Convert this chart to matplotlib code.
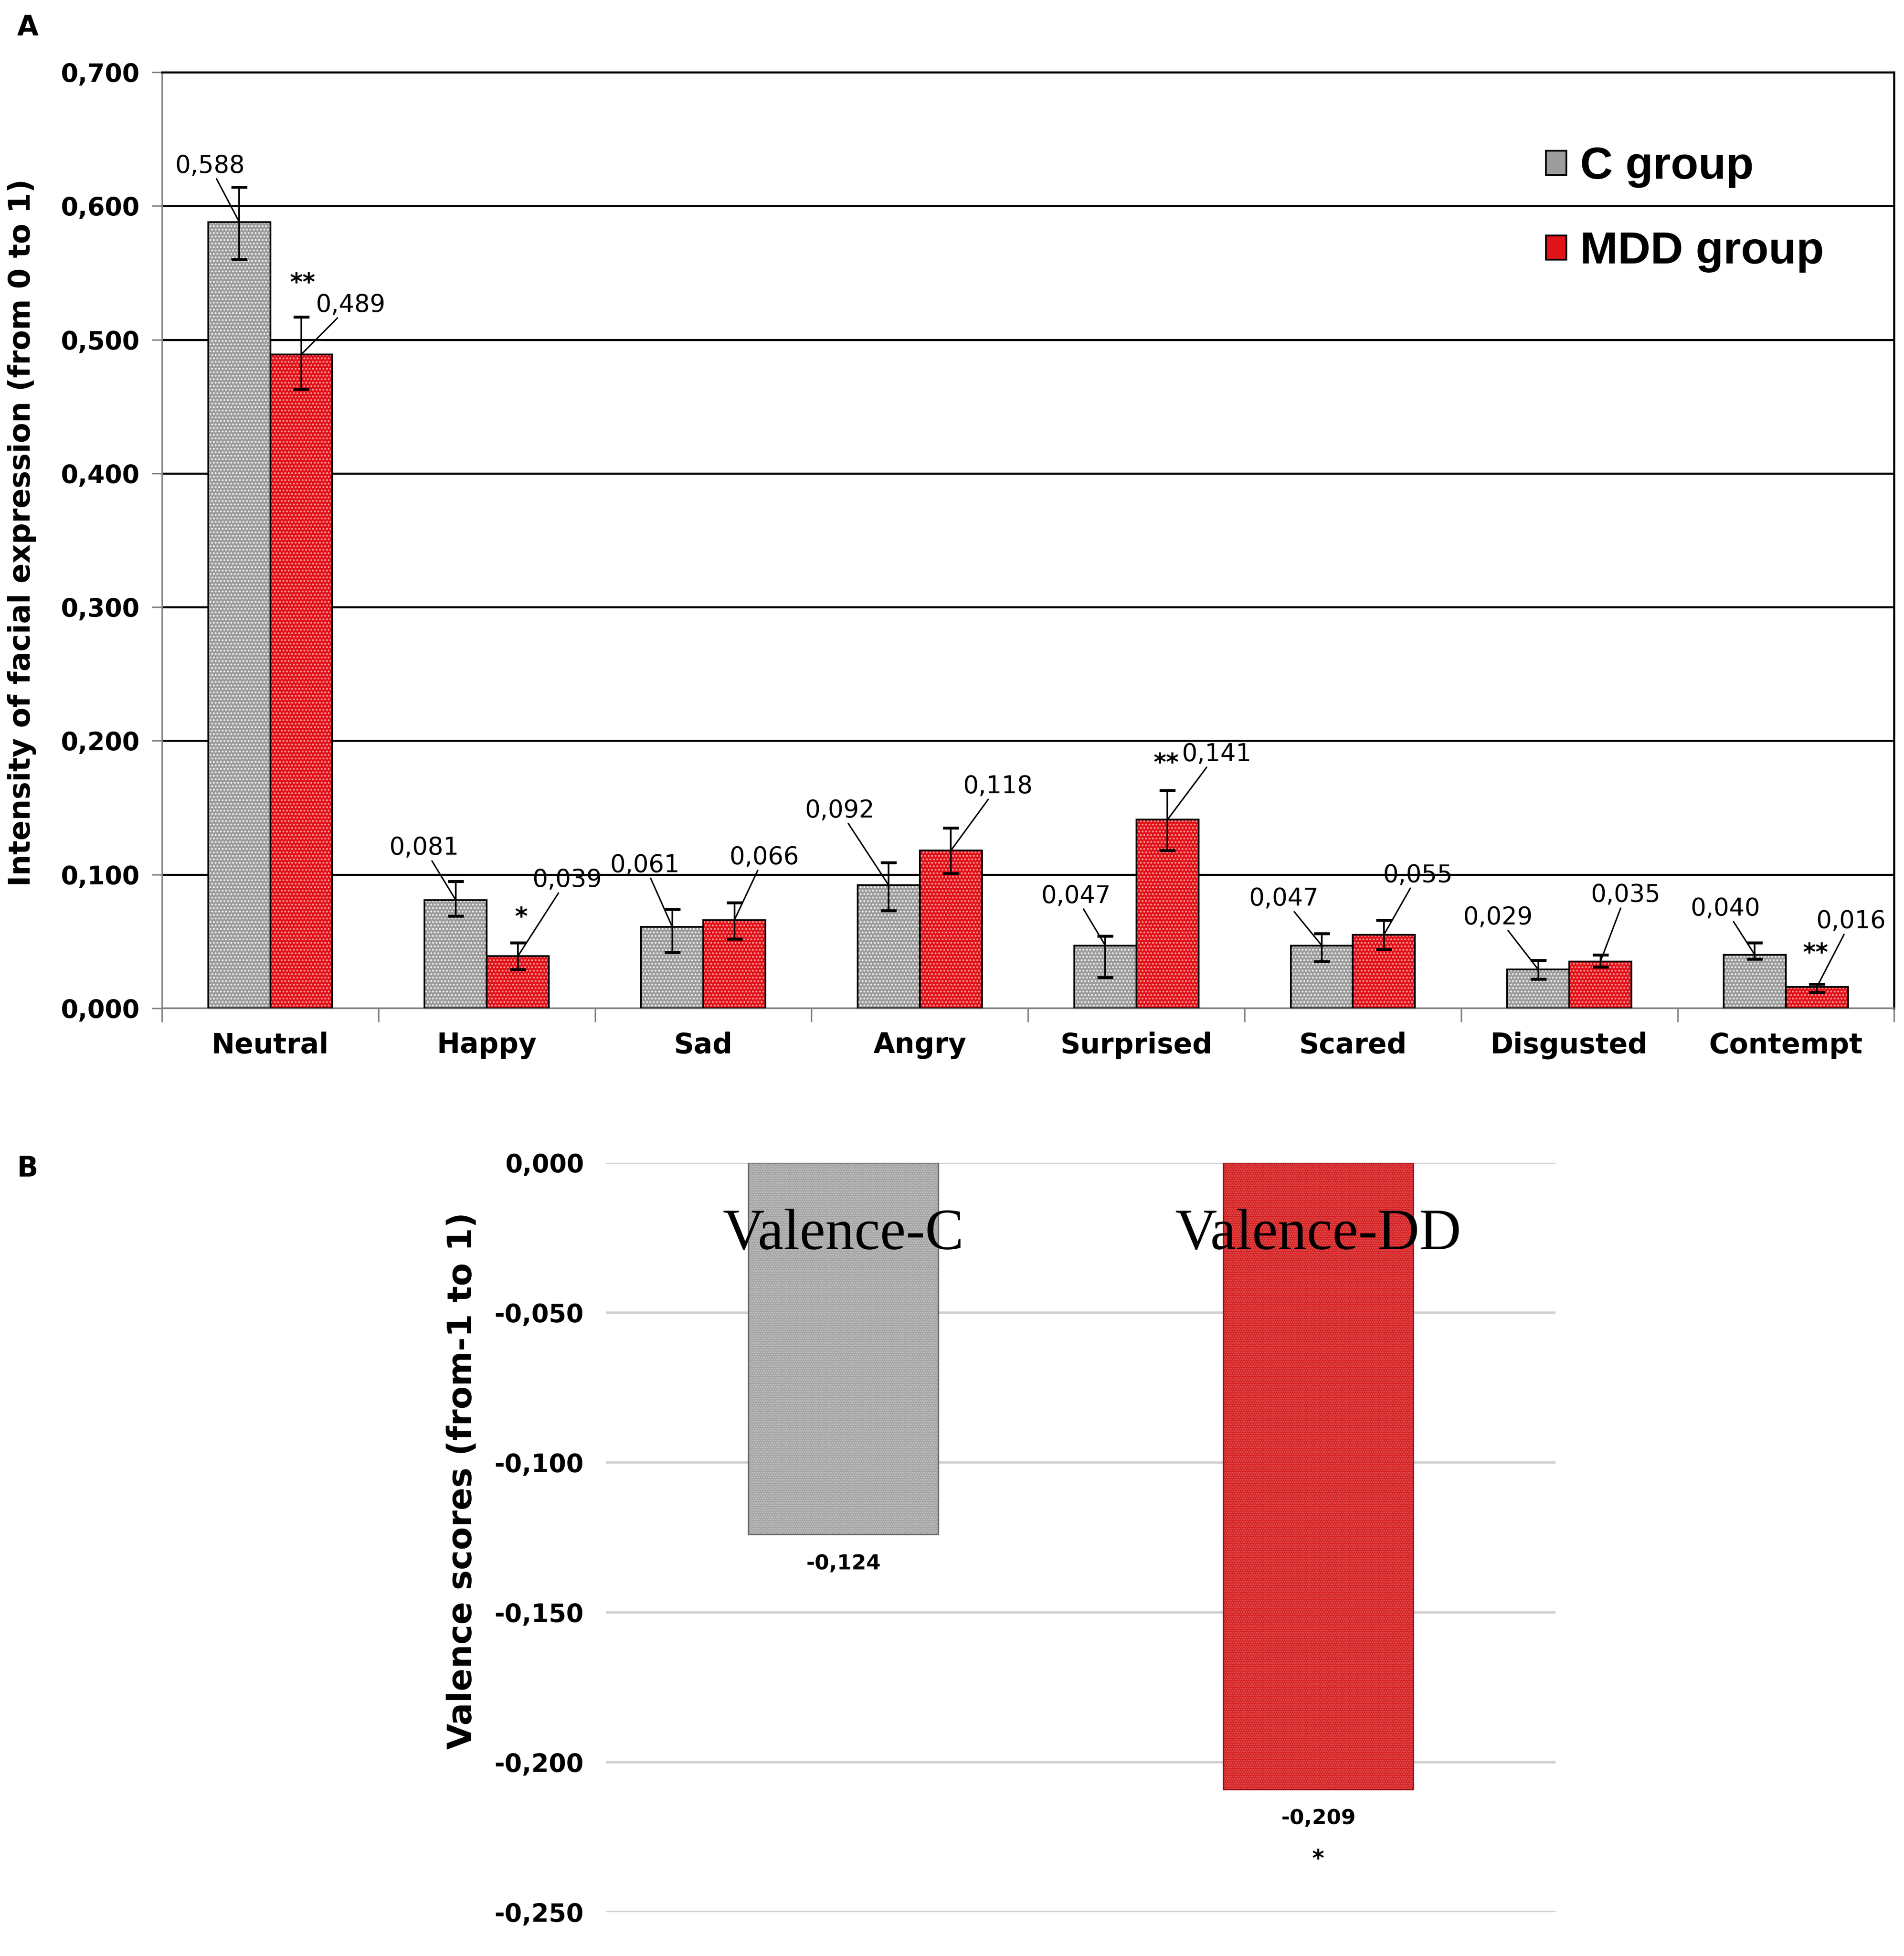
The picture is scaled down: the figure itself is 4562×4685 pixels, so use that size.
import numpy as np
import matplotlib
matplotlib.use("Agg")
import matplotlib.pyplot as plt
from matplotlib.patches import Patch
from matplotlib.ticker import FuncFormatter, FixedLocator

# ---- data (panel A) ----
emotions = ['Neutral', 'Happy', 'Sad', 'Angry', 'Surprised', 'Scared', 'Disgusted', 'Contempt']
c_mean = [0.588, 0.081, 0.061, 0.092, 0.047, 0.047, 0.029, 0.040]
mdd_mean = [0.489, 0.039, 0.066, 0.118, 0.141, 0.055, 0.035, 0.016]
c_err_low = [0.028, 0.012, 0.019, 0.019, 0.024, 0.012, 0.007, 0.003]
c_err_high = [0.026, 0.014, 0.013, 0.017, 0.007, 0.009, 0.007, 0.009]
mdd_err_low = [0.026, 0.010, 0.014, 0.017, 0.023, 0.011, 0.004, 0.004]
mdd_err_high = [0.028, 0.010, 0.013, 0.017, 0.022, 0.011, 0.005, 0.002]
c_labels = ['0,588', '0,081', '0,061', '0,092', '0,047', '0,047', '0,029', '0,040']
mdd_labels = ['0,489', '0,039', '0,066', '0,118', '0,141', '0,055', '0,035', '0,016']
mdd_stars = ['**', '*', '', '', '**', '', '', '**']

# label placement (offset from category centre, height)
c_lab_pos = [(-0.28, 0.630), (-0.29, 0.120), (-0.27, 0.107), (-0.37, 0.148),
             (-0.28, 0.084), (-0.32, 0.082), (-0.33, 0.068), (-0.28, 0.0745)]
mdd_lab_pos = [(0.37, 0.526), (0.37, 0.096), (0.28, 0.113), (0.36, 0.166),
               (0.37, 0.190), (0.30, 0.0996), (0.26, 0.0847), (0.30, 0.065)]
star_pos = [(0.15, 0.542), (0.16, 0.068), None, None, (0.138, 0.183), None, None, (0.138, 0.041)]

# ---- data (panel B) ----
val_names = ['Valence-C', 'Valence-DD']
val_scores = [-0.124, -0.209]
val_labels = ['-0,124', '-0,209']
val_stars = ['', '*']

GREY = '#9c9c9c'
RED = '#e0121a'
NARROW = ['Liberation Sans Narrow', 'DejaVu Sans']

plt.rcParams['hatch.linewidth'] = 2.0

fig = plt.figure(figsize=(45.62, 46.85), dpi=100)

def comma_fmt(v, pos):
    s = '%.3f' % v
    if s == '-0.000':
        s = '0.000'
    return s.replace('.', ',')

# ================= panel A =================
ax = fig.add_axes([0.0851, 0.4845, 0.9097, 0.4786])
x = np.arange(len(emotions))
w = 0.287

for off, vals, col, hc in [(-w / 2, c_mean, GREY, '#f0f0f0'), (w / 2, mdd_mean, RED, '#ff9a9a')]:
    ax.bar(x + off, vals, w, color=col, edgecolor=hc, hatch='..', linewidth=0, zorder=3)
    ax.bar(x + off, vals, w, fill=False, edgecolor='black', linewidth=3, zorder=4)

ax.errorbar(x - w / 2, c_mean, yerr=[c_err_low, c_err_high], fmt='none', ecolor='black',
            elinewidth=3, capsize=14, capthick=5, zorder=5)
ax.errorbar(x + w / 2, mdd_mean, yerr=[mdd_err_low, mdd_err_high], fmt='none', ecolor='black',
            elinewidth=3, capsize=14, capthick=5, zorder=5)

lab_font = dict(fontsize=42, family='DejaVu Sans', ha='center', va='center')
arrow = dict(arrowstyle='-', color='black', lw=2.5, shrinkA=0, shrinkB=0)
for i in range(len(emotions)):
    dx, ty = c_lab_pos[i]
    ax.annotate(c_labels[i], xy=(x[i] - w / 2, c_mean[i]), xytext=(x[i] + dx, ty),
                arrowprops=arrow, zorder=6, **lab_font)
    dx, ty = mdd_lab_pos[i]
    ax.annotate(mdd_labels[i], xy=(x[i] + w / 2, mdd_mean[i]), xytext=(x[i] + dx, ty),
                arrowprops=arrow, zorder=6, **lab_font)
    if star_pos[i] is not None:
        ax.text(x[i] + star_pos[i][0], star_pos[i][1], mdd_stars[i], fontsize=42,
                fontweight='bold', ha='center', va='center', zorder=6)

ax.set_xlim(-0.5, len(emotions) - 0.5)
ax.set_ylim(0, 0.7)
ax.set_yticks(np.arange(0, 0.71, 0.1))
ax.yaxis.set_major_formatter(FuncFormatter(comma_fmt))
ax.yaxis.grid(True, color='black', linewidth=3.5, zorder=0)
ax.set_axisbelow(True)
ax.set_xticks(x)
ax.set_xticklabels(emotions)
ax.xaxis.set_minor_locator(FixedLocator(np.arange(-0.5, len(emotions), 1.0)))
ax.tick_params(axis='x', which='major', length=0, pad=40)
ax.tick_params(axis='x', which='minor', length=24, width=2.5, color='#808080')
ax.tick_params(axis='y', length=17, width=2.5, color='#808080', pad=22)
for lab in ax.get_xticklabels():
    lab.set_family(NARROW)
    lab.set_fontsize(48)
    lab.set_fontweight('bold')
for lab in ax.get_yticklabels():
    lab.set_family(NARROW)
    lab.set_fontsize(43)
    lab.set_fontweight('bold')
ax.spines['left'].set_color('#808080')
ax.spines['left'].set_linewidth(2.5)
ax.spines['bottom'].set_color('#808080')
ax.spines['bottom'].set_linewidth(3)
ax.spines['top'].set_linewidth(3.5)
ax.spines['right'].set_linewidth(3.5)

ax.set_ylabel('Intensity of facial expression (from 0 to 1)', fontsize=51, fontweight='bold')
ax.yaxis.set_label_coords(-0.0725, 0.508)

handles = [Patch(facecolor=GREY, edgecolor='black', linewidth=3),
           Patch(facecolor=RED, edgecolor='black', linewidth=3)]
ax.legend(handles, ['C group', 'MDD group'], loc='upper left', bbox_to_anchor=(0.786, 0.945),
          frameon=False, borderpad=0, handlelength=0.45, handleheight=0.45, handletextpad=0.3,
          labelspacing=0.95, prop=dict(family='Liberation Sans', weight='bold', size=78))

# ================= panel B =================
ax2 = fig.add_axes([0.3183, 0.0224, 0.4987, 0.3831])
xb = np.arange(len(val_names))
wb = 0.40
ax2.bar(xb, val_scores, wb, color=['#a2a2a2', '#d41f22'], edgecolor=['#c4c4c4', '#e25858'],
        hatch='...', linewidth=0, zorder=3)
ax2.bar(xb, val_scores, wb, fill=False, edgecolor=['#6a6a6a', '#9c1414'], linewidth=2.5, zorder=4)
for i in range(len(val_names)):
    ax2.text(xb[i], -0.0241, val_names[i], family='Liberation Serif', fontsize=100,
             ha='center', va='center', zorder=6)
    ax2.text(xb[i], val_scores[i] - 0.0097, val_labels[i], family=NARROW, fontsize=36,
             fontweight='bold', ha='center', va='center')
    if val_stars[i]:
        ax2.text(xb[i], val_scores[i] - 0.0235, val_stars[i], fontsize=40,
                 fontweight='bold', ha='center', va='center')

ax2.set_xlim(-0.5, 1.5)
ax2.set_ylim(-0.25, 0)
ax2.set_yticks(np.arange(-0.25, 0.001, 0.05))
ax2.yaxis.set_major_formatter(FuncFormatter(comma_fmt))
ax2.yaxis.grid(True, color='#d0d0d0', linewidth=4, zorder=0)
ax2.set_axisbelow(True)
ax2.set_xticks([])
ax2.tick_params(axis='y', length=0, pad=38)
for lab in ax2.get_yticklabels():
    lab.set_family(NARROW)
    lab.set_fontsize(43)
    lab.set_fontweight('bold')
for s in ax2.spines.values():
    s.set_visible(False)
ax2.set_ylabel('Valence scores (from-1 to 1)', fontsize=58, fontweight='bold')
ax2.yaxis.set_label_coords(-0.134, 0.5755)

fig.text(0.0145, 0.986, 'A', fontsize=48, fontweight='bold', ha='center', va='center')
fig.text(0.0145, 0.4025, 'B', fontsize=48, fontweight='bold', ha='center', va='center')

fig.savefig('out.png', dpi=100)
